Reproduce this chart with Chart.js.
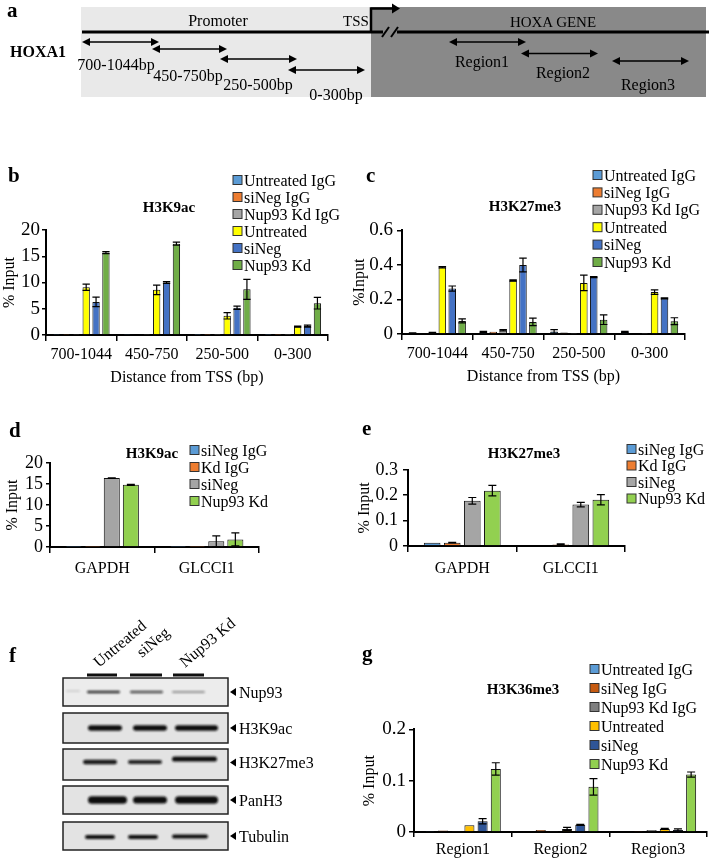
<!DOCTYPE html>
<html><head><meta charset="utf-8">
<script src="https://cdn.jsdelivr.net/npm/chart.js@4.4.0/dist/chart.umd.min.js"></script>
<style>
html,body{margin:0;padding:0;background:#fff;width:709px;height:860px;overflow:hidden;position:relative;}
canvas{position:absolute;}
#ov{position:absolute;left:0;top:0;}
</style></head><body>
<canvas id="cb"></canvas><canvas id="cc"></canvas><canvas id="cd"></canvas><canvas id="ce"></canvas><canvas id="cg"></canvas>
<svg id="ov" width="709" height="860" xmlns="http://www.w3.org/2000/svg" font-family="Liberation Serif, Times New Roman, serif">
<defs><filter id="bl" x="-20%" y="-200%" width="140%" height="500%"><feGaussianBlur stdDeviation="1.1"/></filter></defs>
<!-- panel a schematic -->
<rect x="81" y="7" width="290" height="90" fill="#e9e9e9"/>
<rect x="371" y="7" width="335" height="90" fill="#898989"/>
<line x1="82" y1="32" x2="383" y2="32" stroke="#000" stroke-width="3"/>
<line x1="397" y1="32" x2="709" y2="32" stroke="#000" stroke-width="3"/>
<line x1="382" y1="37" x2="389" y2="27" stroke="#000" stroke-width="2"/>
<line x1="391" y1="37" x2="398" y2="27" stroke="#000" stroke-width="2"/>
<polyline points="371,33 371,8.5 393,8.5" fill="none" stroke="#000" stroke-width="2.5"/>
<polygon points="392,3.5 400,8.5 392,13.5" fill="#000"/>
<g id="arrows"></g>
<text x="7" y="17" font-size="21" font-weight="bold">a</text>
<text x="10" y="57" font-size="16" font-weight="bold">HOXA1</text>
<text x="218" y="26" font-size="16" text-anchor="middle">Promoter</text>
<text x="356" y="26" font-size="15" text-anchor="middle">TSS</text>
<text x="553" y="27" font-size="15" text-anchor="middle">HOXA GENE</text>
<text x="116" y="70" font-size="16" text-anchor="middle">700-1044bp</text>
<text x="188" y="81" font-size="16" text-anchor="middle">450-750bp</text>
<text x="258" y="90" font-size="16" text-anchor="middle">250-500bp</text>
<text x="336" y="100" font-size="16" text-anchor="middle">0-300bp</text>
<text x="482" y="67" font-size="16" text-anchor="middle">Region1</text>
<text x="563" y="78" font-size="16" text-anchor="middle">Region2</text>
<text x="648" y="90" font-size="16" text-anchor="middle">Region3</text>
<!-- panel letters -->
<text x="8" y="182" font-size="21" font-weight="bold">b</text>
<text x="366" y="182" font-size="21" font-weight="bold">c</text>
<text x="9" y="437" font-size="21" font-weight="bold">d</text>
<text x="362" y="435" font-size="21" font-weight="bold">e</text>
<text x="9" y="662" font-size="21" font-weight="bold">f</text>
<text x="362" y="660" font-size="21" font-weight="bold">g</text>
<!-- panel f western blot -->
<g id="blot"></g>
<g id="legends"></g>
</svg>
<script>
// ---------------- DATA ----------------
const promoterRegions = ['700-1044', '450-750', '250-500', '0-300'];
const sixSeries = ['Untreated IgG', 'siNeg IgG', 'Nup93 Kd IgG', 'Untreated', 'siNeg', 'Nup93 Kd'];
const fourSeries = ['siNeg IgG', 'Kd IgG', 'siNeg', 'Nup93 Kd'];
const controlGenes = ['GAPDH', 'GLCCI1'];
const geneRegions = ['Region1', 'Region2', 'Region3'];

// b: H3K9ac at promoter (% input)
const bUntreatedIgG = [0.03, 0.03, 0.02, 0.02];
const bSiNegIgG     = [0.03, 0.15, 0.02, 0.02];
const bKdIgG        = [0.03, 0.05, 0.02, 0.02];
const bUntreated    = [9.1, 8.6, 3.65, 1.6];
const bSiNeg        = [6.3, 10.0, 5.2, 1.7];
const bKd           = [15.7, 17.4, 8.7, 6.05];
const bUntreatedErr = [0.6, 0.9, 0.6, 0.1];
const bSiNegErr     = [0.9, 0.15, 0.3, 0.2];
const bKdErr        = [0.2, 0.3, 1.9, 1.1];

// c: H3K27me3 at promoter (% input)
const cUntreatedIgG = [0.005, 0.012, 0.015, 0.012];
const cSiNegIgG     = [0.003, 0.013, 0.008, 0.004];
const cKdIgG        = [0.007, 0.022, 0.002, 0.001];
const cUntreated    = [0.387, 0.31, 0.296, 0.243];
const cSiNeg        = [0.263, 0.40, 0.33, 0.207];
const cKd           = [0.076, 0.07, 0.083, 0.074];
const cUntreatedIgGErr = [0.002, 0.003, 0.01, 0.003];
const cKdIgGErr     = [0.002, 0.004, 0, 0];
const cUntreatedErr = [0.004, 0.004, 0.045, 0.013];
const cSiNegErr     = [0.015, 0.04, 0.003, 0.003];
const cKdErr        = [0.012, 0.022, 0.028, 0.02];

// d: H3K9ac at control genes
const dSiNegIgG = [0.02, 0.02];
const dKdIgG    = [0.02, 0.02];
const dSiNeg    = [16.4, 1.36];
const dKd       = [14.8, 1.8];
const dSiNegErr = [0.06, 1.3];
const dKdErr    = [0.12, 1.55];

// e: H3K27me3 at control genes
const eSiNegIgG = [0.013, 0.003];
const eKdIgG    = [0.013, 0.006];
const eSiNeg    = [0.178, 0.163];
const eKd       = [0.218, 0.182];
const eKdIgGErr = [0.001, 0.002];
const eSiNegErr = [0.013, 0.009];
const eKdErr    = [0.021, 0.02];

// g: H3K36me3 in gene body
const gUntreatedIgG = [0.002, 0.001, 0.001];
const gSiNegIgG     = [0.003, 0.004, 0.002];
const gKdIgG        = [0.002, 0.002, 0.004];
const gUntreated    = [0.013, 0.006, 0.006];
const gSiNeg        = [0.021, 0.014, 0.004];
const gKd           = [0.123, 0.088, 0.112];
const gUntreatedErr = [0, 0.003, 0.001];
const gSiNegErr     = [0.005, 0.001, 0.002];
const gKdErr        = [0.012, 0.016, 0.005];

// colours
const sixColors  = ['#5b9bd5', '#ed7d31', '#a5a5a5', '#ffff00', '#4472c4', '#70ad47'];
const fourColors = ['#5b9bd5', '#ed7d31', '#a5a5a5', '#92d050'];
const gColors    = ['#5b9bd5', '#c55a11', '#7f7f7f', '#ffc000', '#2f5597', '#92d050'];

// ---------------- CHARTS ----------------
Chart.defaults.font.family = '"Liberation Serif", "Times New Roman", serif';
Chart.defaults.color = '#000';
const AX = '#000';

const errorBarPlugin = {
  id: 'errorBars',
  afterDatasetsDraw(chart) {
    const ctx = chart.ctx, ys = chart.scales.y;
    chart.data.datasets.forEach((ds, di) => {
      if (!ds.errors) return;
      const meta = chart.getDatasetMeta(di);
      meta.data.forEach((bar, i) => {
        const e = ds.errors[i];
        if (!e) return;
        const v = ds.data[i];
        const top = ys.getPixelForValue(v + e);
        const bot = ys.getPixelForValue(Math.max(0, v - e));
        const cap = Math.min(4, bar.width / 2);
        ctx.save();
        ctx.strokeStyle = '#000'; ctx.lineWidth = 1.2;
        ctx.beginPath();
        ctx.moveTo(bar.x, top); ctx.lineTo(bar.x, bot);
        ctx.moveTo(bar.x - cap, top); ctx.lineTo(bar.x + cap, top);
        ctx.moveTo(bar.x - cap, bot); ctx.lineTo(bar.x + cap, bot);
        ctx.stroke(); ctx.restore();
      });
    });
  }
};

function makeBar(id, p) {
  const cv = document.getElementById(id);
  const W = p.plotW + p.yw + p.pr, H = p.plotH + p.pt + p.xh;
  cv.width = W; cv.height = H;
  cv.style.width = W + 'px'; cv.style.height = H + 'px';
  cv.style.left = (p.plotLeft - p.yw) + 'px';
  cv.style.top = (p.plotTop - p.pt) + 'px';
  return new Chart(cv, {
    type: 'bar',
    data: {
      labels: p.labels,
      datasets: p.series.map((name, i) => ({
        label: name, data: p.values[i], errors: p.errors[i],
        backgroundColor: p.colors[i], borderColor: '#111', borderWidth: 1,
        categoryPercentage: p.catPct, barPercentage: p.barPct
      }))
    },
    options: {
      responsive: false, animation: false, devicePixelRatio: 1,
      layout: { padding: { top: p.pt, right: p.pr, left: 0, bottom: 0 } },
      plugins: { legend: { display: false }, tooltip: { enabled: false }, title: { display: false } },
      scales: {
        x: {
          offset: true,
          grid: { display: true, offset: true, drawOnChartArea: false, drawTicks: true, tickLength: p.xTickLen, color: AX, lineWidth: 1.5 },
          border: { display: true, color: AX, width: 2 },
          ticks: { color: AX, font: { size: 16 }, padding: p.xTickPad, maxRotation: 0, autoSkip: false },
          title: p.xTitle ? { display: true, text: p.xTitle, color: AX, font: { size: 16 }, padding: 0 } : { display: false },
          afterFit: s => { s.height = p.xh; }
        },
        y: {
          min: 0, max: p.yMax,
          grid: { display: true, drawOnChartArea: false, drawTicks: true, tickLength: p.yTickLen, color: AX, lineWidth: 1.5 },
          border: { display: true, color: AX, width: 2 },
          ticks: { stepSize: p.yStep, color: AX, font: { size: p.yFont }, padding: p.yTickPad, autoSkip: false },
          title: { display: true, text: p.yTitle, color: AX, font: { size: 16 }, padding: 0 },
          afterFit: s => { s.width = p.yw; }
        }
      }
    },
    plugins: [errorBarPlugin]
  });
}

makeBar('cb', {
  plotLeft: 46, plotTop: 230, plotW: 282, plotH: 105, yw: 46, xh: 52, pt: 14, pr: 8,
  labels: promoterRegions, series: sixSeries, colors: sixColors,
  values: [bUntreatedIgG, bSiNegIgG, bKdIgG, bUntreated, bSiNeg, bKd],
  errors: [null, null, null, bUntreatedErr, bSiNegErr, bKdErr],
  catPct: 0.84, barPct: 0.74, yMax: 20, yStep: 5, yFont: 19, yTickLen: 4, yTickPad: 2,
  xTickLen: 6, xTickPad: 4, yTitle: '% Input', xTitle: 'Distance from TSS (bp)'
});
makeBar('cc', {
  plotLeft: 402, plotTop: 229, plotW: 283, plotH: 105, yw: 52, xh: 52, pt: 14, pr: 8,
  labels: promoterRegions, series: sixSeries, colors: sixColors,
  values: [cUntreatedIgG, cSiNegIgG, cKdIgG, cUntreated, cSiNeg, cKd],
  errors: [cUntreatedIgGErr, null, cKdIgGErr, cUntreatedErr, cSiNegErr, cKdErr],
  catPct: 0.84, barPct: 0.76, yMax: 0.6, yStep: 0.2, yFont: 19, yTickLen: 5, yTickPad: 4,
  xTickLen: 6, xTickPad: 4, yTitle: '%Input', xTitle: 'Distance from TSS (bp)'
});
makeBar('cd', {
  plotLeft: 50, plotTop: 463, plotW: 209, plotH: 84, yw: 47, xh: 30, pt: 14, pr: 8,
  labels: controlGenes, series: fourSeries, colors: fourColors,
  values: [dSiNegIgG, dKdIgG, dSiNeg, dKd],
  errors: [null, null, dSiNegErr, dKdErr],
  catPct: 0.73, barPct: 0.84, yMax: 20, yStep: 5, yFont: 18, yTickLen: 4, yTickPad: 3,
  xTickLen: 6, xTickPad: 6, yTitle: '% Input', xTitle: null
});
makeBar('ce', {
  plotLeft: 408, plotTop: 468, plotW: 217, plotH: 78, yw: 53, xh: 30, pt: 14, pr: 8,
  labels: controlGenes, series: fourSeries, colors: fourColors,
  values: [eSiNegIgG, eKdIgG, eSiNeg, eKd],
  errors: [null, eKdIgGErr, eSiNegErr, eKdErr],
  catPct: 0.74, barPct: 0.83, yMax: 0.3, yStep: 0.1, yFont: 18, yTickLen: 5, yTickPad: 5,
  xTickLen: 6, xTickPad: 7, yTitle: '% Input', xTitle: null
});
makeBar('cg', {
  plotLeft: 414, plotTop: 729, plotW: 293, plotH: 103, yw: 54, xh: 28, pt: 14, pr: 2,
  labels: geneRegions, series: sixSeries, colors: gColors,
  values: [gUntreatedIgG, gSiNegIgG, gKdIgG, gUntreated, gSiNeg, gKd],
  errors: [null, null, null, gUntreatedErr, gSiNegErr, gKdErr],
  catPct: 0.81, barPct: 0.76, yMax: 0.2, yStep: 0.1, yFont: 19, yTickLen: 5, yTickPad: 3,
  xTickLen: 5, xTickPad: 3, yTitle: '% Input', xTitle: null
});

// ---------------- SVG helpers: legends, titles, schematic arrows, blot ----------------
const NS = 'http://www.w3.org/2000/svg';
function el(tag, attrs, parent, text) {
  const e = document.createElementNS(NS, tag);
  for (const k in attrs) e.setAttribute(k, attrs[k]);
  if (text !== undefined) e.textContent = text;
  parent.appendChild(e); return e;
}
const LG = document.getElementById('legends');
function legend(names, colors, boxX, firstY, step) {
  names.forEach((n, i) => {
    const cy = firstY + i * step;
    el('rect', { x: boxX, y: cy - 4.5, width: 9, height: 9, fill: colors[i], stroke: '#333', 'stroke-width': 1 }, LG);
    el('text', { x: boxX + 11, y: cy + 5.5, 'font-size': 16 }, LG, n);
  });
}
function title(x, y, t) { el('text', { x: x, y: y, 'font-size': 15, 'font-weight': 'bold', 'text-anchor': 'middle' }, LG, t); }
legend(sixSeries, sixColors, 233, 180, 17);
legend(sixSeries, sixColors, 593, 175, 17.4);
legend(fourSeries, fourColors, 190, 450, 17);
legend(fourSeries, fourColors, 627, 449, 16.5);
legend(sixSeries, gColors, 590, 669, 19);
title(169, 212, 'H3K9ac');
title(525, 211, 'H3K27me3');
title(152, 458, 'H3K9ac');
title(524, 458, 'H3K27me3');
title(523, 694, 'H3K36me3');

// double-headed arrows in schematic
const AR = document.getElementById('arrows');
function darrow(x1, x2, y) {
  el('line', { x1: x1 + 5, y1: y, x2: x2 - 5, y2: y, stroke: '#000', 'stroke-width': 1.6 }, AR);
  el('polygon', { points: `${x1},${y} ${x1 + 8},${y - 4} ${x1 + 8},${y + 4}`, fill: '#000' }, AR);
  el('polygon', { points: `${x2},${y} ${x2 - 8},${y - 4} ${x2 - 8},${y + 4}`, fill: '#000' }, AR);
}
darrow(82, 159, 42); darrow(152, 227, 49); darrow(220, 297, 59); darrow(288, 365, 70);
darrow(449, 526, 42); darrow(521, 598, 53.5); darrow(612, 689, 61);

// western blot
const BL = document.getElementById('blot');
const blotLanes = ['Untreated', 'siNeg', 'Nup93 Kd'];
const blotRows = ['Nup93', 'H3K9ac', 'H3K27me3', 'PanH3', 'Tubulin'];
const laneStart = [[99, 668], [142, 658], [185, 668]];
blotLanes.forEach((l, i) => {
  const [x, y] = laneStart[i];
  el('text', { 'font-size': 16, transform: `translate(${x},${y}) rotate(-40)` }, BL, l);
});
[[87, 117], [130, 162], [173, 204]].forEach(([a, b]) => el('rect', { x: a, y: 673.5, width: b - a, height: 3, fill: '#111' }, BL));
const boxY = [[678, 706], [713, 743], [749, 780], [786, 814], [822, 850]];
const bands = [
  [[87, 120, 692, 2.6, 0.85], [130, 163, 692, 2.6, 0.7], [172, 205, 692, 2.2, 0.4], [66, 80, 691, 2, 0.12]],
  [[88, 122, 728, 5.5, 1], [133, 167, 728, 5.5, 1], [175, 218, 728, 5.5, 1]],
  [[83, 117, 762, 4.5, 0.95], [128, 162, 762, 4.2, 0.9], [172, 217, 759, 5.2, 1]],
  [[88, 127, 800, 7.5, 1], [133, 167, 800, 7, 1], [175, 218, 800, 7.5, 1]],
  [[85, 115, 837, 4.2, 1], [128, 158, 837, 4.2, 1], [172, 208, 836.5, 4.2, 1]]
];
boxY.forEach(([t, b], r) => {
  el('rect', { x: 63, y: t, width: 165, height: b - t, fill: r === 0 ? '#ececec' : '#e3e3e3', stroke: '#222', 'stroke-width': 1.5 }, BL);
  bands[r].forEach(([x1, x2, cy, h, op]) => {
    el('rect', { x: x1, y: cy - h / 2, width: x2 - x1, height: h, rx: h / 2, fill: '#111', opacity: op, filter: 'url(#bl)' }, BL);
  });
  const cy = (t + b) / 2 + (r === 2 ? -2 : 0);
  el('polygon', { points: `230,${cy} 236,${cy - 4} 236,${cy + 4}`, fill: '#000' }, BL);
  el('text', { x: 239, y: cy + 5.5, 'font-size': 16 }, BL, blotRows[r]);
});
</script>
</body></html>
